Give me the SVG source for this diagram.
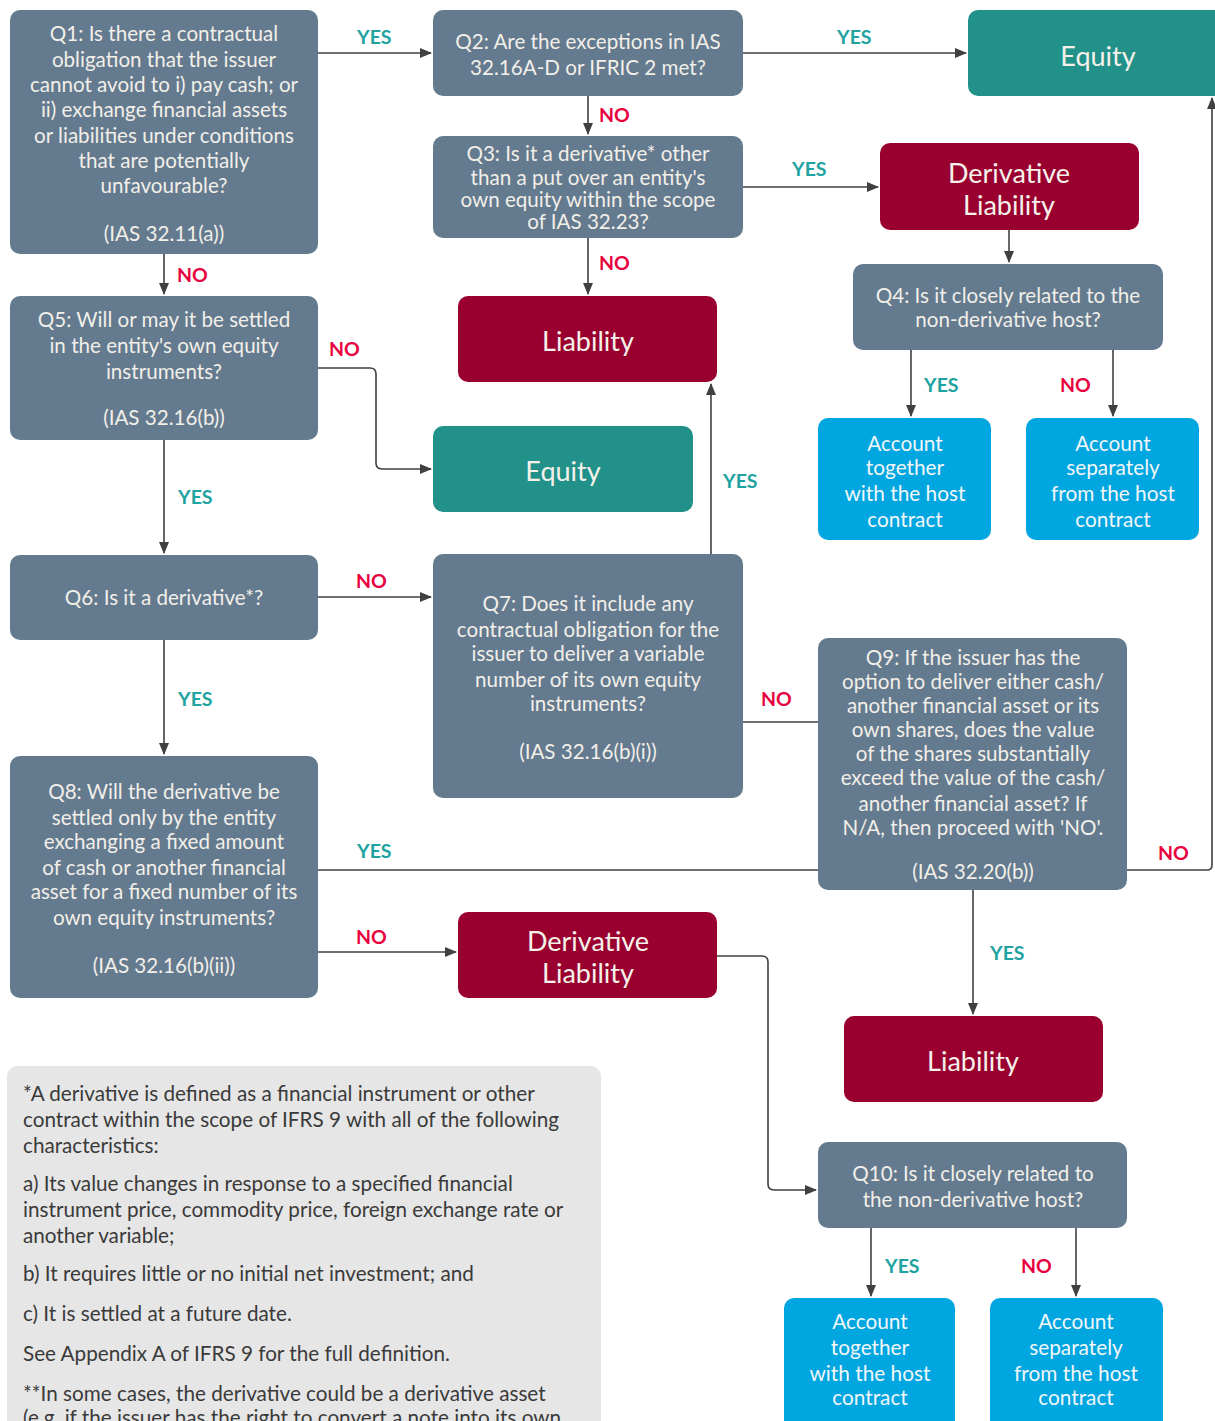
<svg xmlns="http://www.w3.org/2000/svg" width="1215" height="1421" viewBox="0 0 1215 1421">
<defs>
<marker id="ah" markerWidth="12" markerHeight="10" refX="11" refY="5" orient="auto" markerUnits="userSpaceOnUse">
<path d="M0,0 L12,5 L0,10 z" fill="#404040"/>
</marker>
<style>
.q{fill:#647a8e}
.eq{fill:#21918a}
.li{fill:#990030}
.ac{fill:#00a6e0}
.t{font-family:Lato,"Liberation Sans",sans-serif;font-size:20.6px;fill:#f2efe9;text-anchor:middle}
.b{font-family:Lato,"Liberation Sans",sans-serif;font-size:27px;fill:#f5f1ea;text-anchor:middle}
.a{font-family:Lato,"Liberation Sans",sans-serif;font-size:20.8px;fill:#f2f6f8;text-anchor:middle}
.yes{font-family:Lato,"Liberation Sans",sans-serif;font-size:19.5px;font-weight:bold;fill:#1ea3a0}
.no{font-family:Lato,"Liberation Sans",sans-serif;font-size:19.5px;font-weight:bold;fill:#e8003f}
.c{fill:none;stroke:#404040;stroke-width:1.6}
.fn{font-family:Lato,"Liberation Sans",sans-serif;font-size:20.7px;fill:#3a3a3a}
</style>
</defs>
<rect width="1215" height="1421" fill="#ffffff"/>

<g id="connectors">
<path class="c" d="M318,53 H431" marker-end="url(#ah)"/>
<path class="c" d="M743,53 H966" marker-end="url(#ah)"/>
<path class="c" d="M588,96 V134" marker-end="url(#ah)"/>
<path class="c" d="M743,187 H878" marker-end="url(#ah)"/>
<path class="c" d="M588,238 V294" marker-end="url(#ah)"/>
<path class="c" d="M1009,230 V262" marker-end="url(#ah)"/>
<path class="c" d="M911,350 V416" marker-end="url(#ah)"/>
<path class="c" d="M1113,350 V416" marker-end="url(#ah)"/>
<path class="c" d="M164,254 V294" marker-end="url(#ah)"/>
<path class="c" d="M318,368 H370 Q376,368 376,374 V463 Q376,469 382,469 H431" marker-end="url(#ah)"/>
<path class="c" d="M164,440 V553" marker-end="url(#ah)"/>
<path class="c" d="M318,597 H431" marker-end="url(#ah)"/>
<path class="c" d="M711,554 V384" marker-end="url(#ah)"/>
<path class="c" d="M743,722 H818"/>
<path class="c" d="M164,640 V754" marker-end="url(#ah)"/>
<path class="c" d="M318,870 H818"/>
<path class="c" d="M318,952 H456" marker-end="url(#ah)"/>
<path class="c" d="M1127,870 H1207 Q1212,870 1212,865 V98" marker-end="url(#ah)"/>
<path class="c" d="M973,890 V1014" marker-end="url(#ah)"/>
<path class="c" d="M717,956 H762 Q768,956 768,962 V1184 Q768,1190 774,1190 H816" marker-end="url(#ah)"/>
<path class="c" d="M871,1228 V1296" marker-end="url(#ah)"/>
<path class="c" d="M1076,1228 V1296" marker-end="url(#ah)"/>
<text class="yes" x="357" y="44">YES</text>
<text class="yes" x="837" y="44">YES</text>
<text class="no" x="599" y="122">NO</text>
<text class="yes" x="792" y="176">YES</text>
<text class="no" x="599" y="270">NO</text>
<text class="yes" x="924" y="392">YES</text>
<text class="no" x="1060" y="392">NO</text>
<text class="no" x="177" y="282">NO</text>
<text class="no" x="329" y="356">NO</text>
<text class="yes" x="178" y="504">YES</text>
<text class="no" x="356" y="588">NO</text>
<text class="yes" x="723" y="488">YES</text>
<text class="no" x="761" y="706">NO</text>
<text class="yes" x="178" y="706">YES</text>
<text class="yes" x="357" y="858">YES</text>
<text class="no" x="356" y="944">NO</text>
<text class="no" x="1158" y="860">NO</text>
<text class="yes" x="990" y="960">YES</text>
<text class="yes" x="885" y="1273">YES</text>
<text class="no" x="1021" y="1273">NO</text>
</g>

<g id="q1">
<rect class="q" x="10" y="10" width="308" height="244" rx="10"/>
<text class="t" x="164" y="41">Q1: Is there a contractual</text>
<text class="t" x="164" y="67">obligation that the issuer</text>
<text class="t" x="164" y="92">cannot avoid to i) pay cash; or</text>
<text class="t" x="164" y="117">ii) exchange financial assets</text>
<text class="t" x="164" y="143">or liabilities under conditions</text>
<text class="t" x="164" y="168">that are potentially</text>
<text class="t" x="164" y="193">unfavourable?</text>
<text class="t" x="164" y="241">(IAS 32.11(a))</text>
</g>

<g id="q2">
<rect class="q" x="433" y="10" width="310" height="86" rx="10"/>
<text class="t" x="588" y="49">Q2: Are the exceptions in IAS</text>
<text class="t" x="588" y="75">32.16A-D or IFRIC 2 met?</text>
</g>

<g id="equity-top">
<rect class="eq" x="968" y="10" width="260" height="86" rx="10"/>
<text class="b" x="1098" y="66">Equity</text>
</g>

<g id="q3">
<rect class="q" x="433" y="136" width="310" height="102" rx="10"/>
<text class="t" x="588" y="161">Q3: Is it a derivative* other</text>
<text class="t" x="588" y="185">than a put over an entity's</text>
<text class="t" x="588" y="207">own equity within the scope</text>
<text class="t" x="588" y="229">of IAS 32.23?</text>
</g>

<g id="derivative-liability-top">
<rect class="li" x="880" y="143" width="259" height="87" rx="10"/>
<text class="b" x="1009" y="183">Derivative</text>
<text class="b" x="1009" y="215">Liability</text>
</g>

<g id="q4">
<rect class="q" x="853" y="264" width="310" height="86" rx="10"/>
<text class="t" x="1008" y="303">Q4: Is it closely related to the</text>
<text class="t" x="1008" y="327">non-derivative host?</text>
</g>

<g id="account-together-1">
<rect class="ac" x="818" y="418" width="173" height="122" rx="10"/>
<text class="a" x="905" y="451">Account</text>
<text class="a" x="905" y="475">together</text>
<text class="a" x="905" y="501">with the host</text>
<text class="a" x="905" y="527">contract</text>
</g>

<g id="account-separately-1">
<rect class="ac" x="1026" y="418" width="173" height="122" rx="10"/>
<text class="a" x="1113" y="451">Account</text>
<text class="a" x="1113" y="475">separately</text>
<text class="a" x="1113" y="501">from the host</text>
<text class="a" x="1113" y="527">contract</text>
</g>

<g id="q5">
<rect class="q" x="10" y="296" width="308" height="144" rx="10"/>
<text class="t" x="164" y="327">Q5: Will or may it be settled</text>
<text class="t" x="164" y="353">in the entity's own equity</text>
<text class="t" x="164" y="379">instruments?</text>
<text class="t" x="164" y="425">(IAS 32.16(b))</text>
</g>

<g id="liability-top">
<rect class="li" x="458" y="296" width="259" height="86" rx="10"/>
<text class="b" x="588" y="351">Liability</text>
</g>

<g id="equity-mid">
<rect class="eq" x="433" y="426" width="260" height="86" rx="10"/>
<text class="b" x="563" y="481">Equity</text>
</g>

<g id="q6">
<rect class="q" x="10" y="555" width="308" height="85" rx="10"/>
<text class="t" x="164" y="605">Q6: Is it a derivative*?</text>
</g>

<g id="q7">
<rect class="q" x="433" y="554" width="310" height="244" rx="10"/>
<text class="t" x="588" y="611">Q7: Does it include any</text>
<text class="t" x="588" y="637">contractual obligation for the</text>
<text class="t" x="588" y="661">issuer to deliver a variable</text>
<text class="t" x="588" y="687">number of its own equity</text>
<text class="t" x="588" y="711">instruments?</text>
<text class="t" x="588" y="759">(IAS 32.16(b)(i))</text>
</g>

<g id="q8">
<rect class="q" x="10" y="756" width="308" height="242" rx="10"/>
<text class="t" x="164" y="799">Q8: Will the derivative be</text>
<text class="t" x="164" y="825">settled only by the entity</text>
<text class="t" x="164" y="849">exchanging a fixed amount</text>
<text class="t" x="164" y="875">of cash or another financial</text>
<text class="t" x="164" y="899">asset for a fixed number of its</text>
<text class="t" x="164" y="925">own equity instruments?</text>
<text class="t" x="164" y="973">(IAS 32.16(b)(ii))</text>
</g>

<g id="q9">
<rect class="q" x="818" y="638" width="309" height="252" rx="10"/>
<text class="t" x="973" y="665">Q9: If the issuer has the</text>
<text class="t" x="973" y="689">option to deliver either cash/</text>
<text class="t" x="973" y="713">another financial asset or its</text>
<text class="t" x="973" y="737">own shares, does the value</text>
<text class="t" x="973" y="761">of the shares substantially</text>
<text class="t" x="973" y="785">exceed the value of the cash/</text>
<text class="t" x="973" y="811">another financial asset? If</text>
<text class="t" x="973" y="835">N/A, then proceed with 'NO'.</text>
<text class="t" x="973" y="879">(IAS 32.20(b))</text>
</g>

<g id="derivative-liability-lower">
<rect class="li" x="458" y="912" width="259" height="86" rx="10"/>
<text class="b" x="588" y="951">Derivative</text>
<text class="b" x="588" y="983">Liability</text>
</g>

<g id="liability-lower">
<rect class="li" x="844" y="1016" width="259" height="86" rx="10"/>
<text class="b" x="973" y="1071">Liability</text>
</g>

<g id="q10">
<rect class="q" x="818" y="1142" width="309" height="86" rx="10"/>
<text class="t" x="973" y="1181">Q10: Is it closely related to</text>
<text class="t" x="973" y="1207">the non-derivative host?</text>
</g>

<g id="account-together-2">
<rect class="ac" x="784" y="1298" width="171" height="140" rx="10"/>
<text class="a" x="870" y="1329">Account</text>
<text class="a" x="870" y="1355">together</text>
<text class="a" x="870" y="1381">with the host</text>
<text class="a" x="870" y="1405">contract</text>
</g>

<g id="account-separately-2">
<rect class="ac" x="990" y="1298" width="173" height="140" rx="10"/>
<text class="a" x="1076" y="1329">Account</text>
<text class="a" x="1076" y="1355">separately</text>
<text class="a" x="1076" y="1381">from the host</text>
<text class="a" x="1076" y="1405">contract</text>
</g>

<g id="footnote">
<rect x="7" y="1066" width="594" height="380" rx="10" fill="#e6e6e6"/>
<text class="fn" x="23" y="1101">*A derivative is defined as a financial instrument or other</text>
<text class="fn" x="23" y="1127">contract within the scope of IFRS 9 with all of the following</text>
<text class="fn" x="23" y="1153">characteristics:</text>
<text class="fn" x="23" y="1191">a) Its value changes in response to a specified financial</text>
<text class="fn" x="23" y="1217">instrument price, commodity price, foreign exchange rate or</text>
<text class="fn" x="23" y="1243">another variable;</text>
<text class="fn" x="23" y="1281">b) It requires little or no initial net investment; and</text>
<text class="fn" x="23" y="1321">c) It is settled at a future date.</text>
<text class="fn" x="23" y="1361">See Appendix A of IFRS 9 for the full definition.</text>
<text class="fn" x="23" y="1401">**In some cases, the derivative could be a derivative asset</text>
<text class="fn" x="23" y="1425">(e.g. if the issuer has the right to convert a note into its own</text>
</g>
</svg>
